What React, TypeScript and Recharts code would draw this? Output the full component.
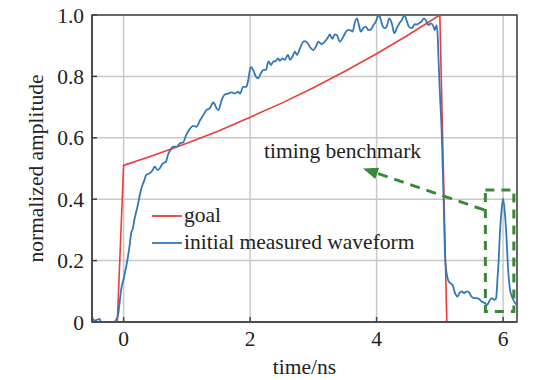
import React from 'react';
import {
  LineChart,
  Line,
  XAxis,
  YAxis,
  CartesianGrid,
  Legend,
  ReferenceArea,
  ReferenceLine,
  ReferenceDot,
} from 'recharts';

// goal pulse (time in ns, normalized amplitude)
const goalTime = [-0.5, -0.1, 0, 0.5, 1, 1.5, 2, 2.5, 3, 3.5, 4, 4.5, 5, 5.11, 6.22];
const goalAmp = [0, 0, 0.51, 0.545, 0.582, 0.622, 0.667, 0.713, 0.763, 0.817, 0.874, 0.935, 1.0, 0, 0];

// initial measured waveform
const waveTime = [
  -0.51, -0.46, -0.38, -0.36, -0.3, -0.2, -0.15, -0.12, -0.09, -0.065, -0.04, 0.0, 0.014, 0.04, 0.07,
  0.093, 0.12, 0.146, 0.17, 0.2, 0.22, 0.25, 0.28, 0.33, 0.356, 0.41, 0.46, 0.49, 0.54, 0.57, 0.62,
  0.67, 0.7, 0.74, 0.78, 0.84, 0.89, 0.94, 0.99, 1.05, 1.1, 1.15, 1.21, 1.26, 1.31, 1.36, 1.42, 1.47,
  1.5, 1.55, 1.6, 1.65, 1.71, 1.76, 1.81, 1.84, 1.89, 1.94, 1.97, 2.01, 2.05, 2.09, 2.13, 2.17, 2.21,
  2.25, 2.29, 2.33, 2.37, 2.4, 2.44, 2.47, 2.51, 2.55, 2.58, 2.6, 2.63, 2.67, 2.71, 2.74, 2.79, 2.84,
  2.87, 2.91, 2.96, 3.0, 3.04, 3.08, 3.13, 3.18, 3.23, 3.26, 3.3, 3.34, 3.37, 3.42, 3.46, 3.5, 3.54,
  3.58, 3.62, 3.66, 3.69, 3.72, 3.75, 3.79, 3.83, 3.87, 3.91, 3.95, 3.99, 4.03, 4.05, 4.09, 4.12, 4.16,
  4.2, 4.24, 4.28, 4.32, 4.36, 4.4, 4.44, 4.48, 4.51, 4.56, 4.6, 4.63, 4.67, 4.71, 4.75, 4.79, 4.82,
  4.86, 4.9, 4.92, 4.95, 4.97, 4.98, 5.0, 5.03, 5.06, 5.08, 5.1, 5.13, 5.16, 5.2, 5.24, 5.28, 5.31,
  5.35, 5.38, 5.43, 5.47, 5.5, 5.54, 5.58, 5.62, 5.66, 5.71, 5.75, 5.78, 5.82, 5.86, 5.89, 5.91, 5.93,
  5.95, 5.97, 6.0, 6.03, 6.05, 6.08, 6.11, 6.14, 6.19, 6.22,
];
const waveAmp = [
  0.02, 0.005, 0.01, 0.0, 0.0, 0.0, 0.0, 0.007, 0.02, 0.06, 0.105, 0.14, 0.154, 0.18, 0.215,
  0.246, 0.29, 0.305, 0.333, 0.36, 0.376, 0.408, 0.435, 0.463, 0.479, 0.484, 0.495, 0.506, 0.495, 0.5, 0.517,
  0.522, 0.544, 0.56, 0.571, 0.571, 0.582, 0.585, 0.609, 0.63, 0.639, 0.636, 0.658, 0.674, 0.69, 0.696, 0.715, 0.696,
  0.69, 0.723, 0.741, 0.744, 0.748, 0.744, 0.75, 0.744, 0.766, 0.766, 0.788, 0.831, 0.82, 0.8, 0.794, 0.81, 0.821,
  0.821, 0.849, 0.837, 0.849, 0.849, 0.859, 0.851, 0.859, 0.854, 0.865, 0.87, 0.854, 0.865, 0.881, 0.87, 0.892, 0.913,
  0.915, 0.908, 0.892, 0.886, 0.897, 0.913, 0.905, 0.913, 0.927, 0.937, 0.922, 0.937, 0.935, 0.913, 0.924, 0.94, 0.951,
  0.951, 0.946, 0.979, 0.989, 0.967, 0.946, 0.957, 0.962, 0.951, 0.953, 0.967, 0.979, 1.0, 0.995, 0.967, 0.957, 0.962,
  0.989, 0.973, 0.94, 0.957, 0.973, 0.984, 1.0, 0.979, 0.962, 0.957, 0.97, 0.969, 0.973, 0.979, 0.989, 0.979, 0.967,
  0.973, 0.962, 0.951, 0.967, 0.913, 0.85, 0.75, 0.615, 0.4, 0.224, 0.17, 0.137, 0.127, 0.121, 0.094, 0.083, 0.094,
  0.1, 0.094, 0.1, 0.094, 0.083, 0.078, 0.078, 0.075, 0.067, 0.062, 0.056, 0.067, 0.078, 0.072, 0.078, 0.137, 0.2,
  0.29, 0.35, 0.403, 0.35, 0.29, 0.17, 0.105, 0.083, 0.062, 0.055,
];

const xTicks = [0, 2, 4, 6];
const yTicks = [0, 0.2, 0.4, 0.6, 0.8, 1.0];

const goalData = goalTime.map((t, i) => ({ t, v: goalAmp[i] }));
const waveData = waveTime.map((t, i) => ({ t, v: waveAmp[i] }));

const FONT = '"Liberation Serif", "Times New Roman", serif';
const FS = 21.5;
const TEXT = '#222222';
const AXIS = '#444444';
const RED = '#ee3b3b';
const BLUE = '#3477b6';
const GREEN = '#3a873a';

const legendItems = [
  { name: 'goal', color: RED },
  { name: 'initial measured waveform', color: BLUE },
];

const LegendBox = () => (
  <div style={{ fontFamily: FONT, fontSize: FS, color: TEXT, lineHeight: '27px' }}>
    {legendItems.map((it) => (
      <div key={it.name} style={{ display: 'flex', alignItems: 'center', whiteSpace: 'nowrap' }}>
        <svg width={32} height={4} style={{ display: 'block' }}>
          <line x1={0} y1={2} x2={30} y2={2} stroke={it.color} strokeWidth={1.8} />
        </svg>
        <span>{it.name}</span>
      </div>
    ))}
  </div>
);

// dashed pointer with a filled head at the end point
const DashedArrow = (props: any) => {
  const { x1, y1, x2, y2 } = props;
  const ang = Math.atan2(y2 - y1, x2 - x1);
  const len = 15;
  const half = 6;
  const bx = x2 - len * Math.cos(ang);
  const by = y2 - len * Math.sin(ang);
  const px = -Math.sin(ang) * half;
  const py = Math.cos(ang) * half;
  return (
    <g>
      <line x1={x1} y1={y1} x2={bx} y2={by} stroke={GREEN} strokeWidth={3} strokeDasharray="10 7" />
      <polygon points={`${x2},${y2} ${bx + px},${by + py} ${bx - px},${by - py}`} fill={GREEN} />
    </g>
  );
};

const fmtY = (v: number) => (v === 0 ? '0' : v.toFixed(1));

export default function App() {
  return (
    <div style={{ position: 'absolute', left: 0, top: 0, background: '#fff' }}>
      <LineChart width={539} height={380} margin={{ top: 15, right: 22, bottom: 0, left: 0 }}>
        <CartesianGrid stroke="#c8c8c8" strokeWidth={1.5} />
        <XAxis
          type="number"
          dataKey="t"
          domain={[-0.5, 6.22]}
          ticks={xTicks}
          allowDataOverflow
          height={58}
          stroke={AXIS}
          strokeWidth={1.5}
          tickSize={-5}
          tickMargin={14}
          tick={{ fill: TEXT, fontSize: FS, fontFamily: FONT }}
          label={{
            content: (p: any) => {
              const vb = p.viewBox || { x: 92, y: 322, width: 425 };
              return (
                <text
                  x={vb.x + vb.width / 2}
                  y={vb.y + 52}
                  textAnchor="middle"
                  fill={TEXT}
                  fontSize={FS}
                  fontFamily={FONT}
                >
                  time/ns
                </text>
              );
            },
          }}
        />
        <YAxis
          type="number"
          domain={[0, 1]}
          ticks={yTicks}
          allowDataOverflow
          width={92}
          stroke={AXIS}
          strokeWidth={1.5}
          tickSize={-5}
          tickMargin={13}
          tickFormatter={fmtY}
          tick={{ fill: TEXT, fontSize: FS, fontFamily: FONT }}
          label={{
            content: (p: any) => {
              const vb = p.viewBox || { y: 15, height: 307 };
              const cx = 36;
              const cy = vb.y + vb.height / 2;
              return (
                <text
                  x={cx}
                  y={cy}
                  transform={`rotate(-90 ${cx} ${cy})`}
                  textAnchor="middle"
                  dominantBaseline="central"
                  fill={TEXT}
                  fontSize={FS}
                  fontFamily={FONT}
                >
                  normalized amplitude
                </text>
              );
            },
          }}
        />
        {/* plot frame */}
        <ReferenceArea x1={-0.5} x2={6.22} y1={0} y2={1} fill="none" stroke={AXIS} strokeWidth={1.5} />
        <Line
          data={goalData}
          dataKey="v"
          name="goal"
          type="linear"
          stroke={RED}
          strokeWidth={1.6}
          dot={false}
          isAnimationActive={false}
        />
        <Line
          data={waveData}
          dataKey="v"
          name="initial measured waveform"
          type="monotone"
          stroke={BLUE}
          strokeWidth={1.8}
          dot={false}
          isAnimationActive={false}
        />
        <ReferenceArea
          x1={5.72}
          x2={6.17}
          y1={0.034}
          y2={0.43}
          fill="none"
          fillOpacity={0}
          stroke={GREEN}
          strokeWidth={3}
          strokeDasharray="9 7"
          ifOverflow="visible"
        />
        <ReferenceLine
          segment={[
            { x: 5.7, y: 0.365 },
            { x: 3.785, y: 0.5 },
          ]}
          ifOverflow="visible"
          shape={DashedArrow}
        />
        <ReferenceDot
          x={2.22}
          y={0.533}
          r={0}
          fill="none"
          stroke="none"
          ifOverflow="visible"
          label={{
            content: (p: any) => {
              const vb = p.viewBox || { x: 0, y: 0 };
              return (
                <text x={vb.x} y={vb.y} fill={TEXT} fontSize={FS} fontFamily={FONT}>
                  timing benchmark
                </text>
              );
            },
          }}
        />
        <Legend
          layout="vertical"
          align="center"
          verticalAlign="middle"
          content={LegendBox}
          wrapperStyle={{ left: 152, top: 202, width: 'auto' }}
        />
      </LineChart>
    </div>
  );
}
